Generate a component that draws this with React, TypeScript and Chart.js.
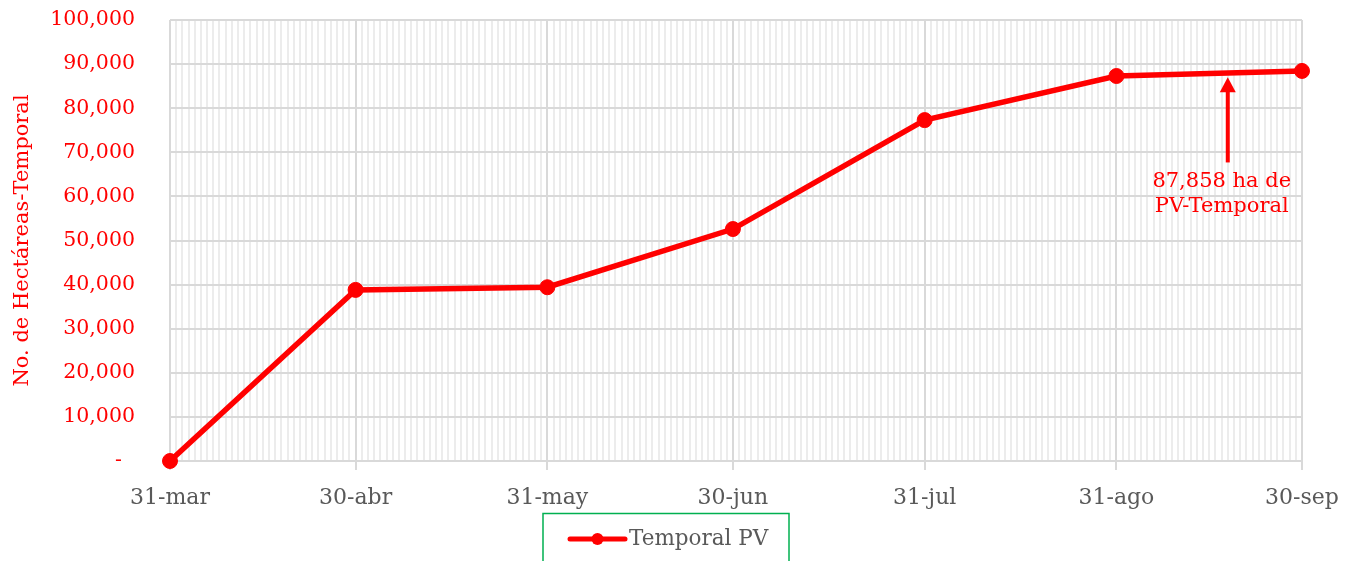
import { useEffect, useRef } from 'react';
import { Chart, registerables } from 'chart.js';
Chart.register(...registerables);

const dates = ['2023-03-31', '2023-04-30', '2023-05-31', '2023-06-30', '2023-07-31', '2023-08-31', '2023-09-30'];
const tickLabels = ['31-mar', '30-abr', '31-may', '30-jun', '31-jul', '31-ago', '30-sep'];
const temporalPV = [0, 38800, 39400, 52600, 77300, 87300, 88450];
const seriesLabel = 'Temporal PV';
const yTitle = 'No. de Hectáreas-Temporal';
const yMax = 100000;
const yStep = 10000;
const annotationLines = ['87,858 ha de', 'PV-Temporal'];
const annotationDate = '2023-09-18';
const annotationTipValue = 87000;
const annotationTailValue = 67700;

const DAY = 86400000;
const startMs = Date.parse(dates[0]);
const dayOf = (d: string) => Math.round((Date.parse(d) - startMs) / DAY);
const majorDays = dates.map(dayOf);
const lastDay = majorDays[majorDays.length - 1];
const allDays: number[] = [];
for (let i = 0; i <= lastDay; i++) allDays.push(i);

const FONT = "'DejaVu Serif', serif";
const RED = '#ff0000';
const GRAY_TEXT = '#595959';
const MAJOR_GRID = '#d9d9d9';
const MINOR_GRID = '#ececec';

const overlayPlugin = {
  id: 'overlay',
  afterDraw(chart: any) {
    const ctx = chart.ctx;
    const xs = chart.scales.x;
    const ys = chart.scales.y;
    // annotation arrow
    const ax = xs.getPixelForValue(dayOf(annotationDate));
    const tipY = ys.getPixelForValue(annotationTipValue);
    const tailY = ys.getPixelForValue(annotationTailValue);
    ctx.save();
    ctx.strokeStyle = RED;
    ctx.fillStyle = RED;
    ctx.lineWidth = 4;
    ctx.beginPath();
    ctx.moveTo(ax, tailY);
    ctx.lineTo(ax, tipY + 12);
    ctx.stroke();
    ctx.beginPath();
    ctx.moveTo(ax, tipY);
    ctx.lineTo(ax - 8, tipY + 15);
    ctx.lineTo(ax + 8, tipY + 15);
    ctx.closePath();
    ctx.fill();
    ctx.font = `21px ${FONT}`;
    ctx.textAlign = 'center';
    ctx.textBaseline = 'middle';
    annotationLines.forEach((t, i) => {
      ctx.fillText(t, ax - 6, tailY + 19 + i * 25);
    });
    ctx.restore();

    // legend
    const ds = chart.data.datasets[0];
    const boxL = chart.width / 2 - 132;
    const boxR = boxL + 246;
    const boxT = 513.5;
    ctx.save();
    ctx.strokeStyle = '#00b050';
    ctx.lineWidth = 1.5;
    ctx.strokeRect(boxL, boxT, boxR - boxL, 80);
    const ly = 539;
    const lx0 = boxL + 27;
    const lx1 = boxL + 82;
    ctx.strokeStyle = ds.borderColor;
    ctx.lineWidth = 5;
    ctx.lineCap = 'round';
    ctx.beginPath();
    ctx.moveTo(lx0, ly);
    ctx.lineTo(lx1, ly);
    ctx.stroke();
    ctx.fillStyle = ds.pointBackgroundColor;
    ctx.beginPath();
    ctx.arc((lx0 + lx1) / 2, ly, 6, 0, Math.PI * 2);
    ctx.fill();
    ctx.fillStyle = GRAY_TEXT;
    ctx.font = `21.5px ${FONT}`;
    ctx.textAlign = 'left';
    ctx.textBaseline = 'middle';
    ctx.fillText(ds.label, lx1 + 4, ly);
    ctx.restore();
  },
};

export default function App() {
  const ref = useRef<HTMLCanvasElement>(null);
  useEffect(() => {
    if (!ref.current) return;
    const chart = new Chart(ref.current, {
      type: 'line',
      data: {
        datasets: [
          {
            label: seriesLabel,
            data: dates.map((d, i) => ({ x: dayOf(d), y: temporalPV[i] })),
            borderColor: RED,
            backgroundColor: RED,
            pointBackgroundColor: RED,
            pointBorderColor: RED,
            borderWidth: 5.5,
            pointRadius: 7.5,
            pointBorderWidth: 1,
            tension: 0,
            clip: false as any,
          },
        ],
      },
      options: {
        animation: false,
        responsive: true,
        maintainAspectRatio: false,
        layout: { padding: { top: 20, right: 48, bottom: 40, left: 0 } },
        plugins: { legend: { display: false }, tooltip: { enabled: false } },
        scales: {
          x: {
            type: 'linear',
            min: 0,
            max: lastDay,
            afterBuildTicks: (axis: any) => {
              axis.ticks = allDays.map((v) => ({ value: v }));
            },
            afterFit: (axis: any) => {
              axis.height = 60;
            },
            border: { display: false },
            grid: {
              color: (c: any) => (majorDays.includes(c.tick?.value) ? MAJOR_GRID : MINOR_GRID),
              tickColor: (c: any) => (majorDays.includes(c.tick?.value) ? MAJOR_GRID : 'rgba(0,0,0,0)'),
              lineWidth: 2,
              tickLength: 9,
            },
            ticks: {
              autoSkip: false,
              maxRotation: 0,
              padding: 9,
              color: GRAY_TEXT,
              font: { family: FONT, size: 22, lineHeight: 1.75 },
              callback: (v: any) => {
                const idx = majorDays.indexOf(Number(v));
                return idx >= 0 ? tickLabels[idx] : '';
              },
            },
          },
          y: {
            min: 0,
            max: yMax,
            afterFit: (axis: any) => {
              axis.width = 170;
            },
            border: { display: false },
            grid: { color: MAJOR_GRID, lineWidth: 2, drawTicks: true, tickLength: 35, tickColor: 'rgba(0,0,0,0)' },
            ticks: {
              stepSize: yStep,
              padding: 0,
              color: RED,
              font: { family: FONT, size: 20.5 },
              callback: (v: any) => (Number(v) === 0 ? '-  ' : Number(v).toLocaleString('en-US')),
            },
            title: {
              display: true,
              text: yTitle,
              color: RED,
              font: { family: FONT, size: 21 },
              padding: { top: 10, bottom: 0 },
            },
          },
        },
      },
      plugins: [overlayPlugin],
    });
    return () => chart.destroy();
  }, []);
  return (
    <div style={{ position: 'absolute', left: 0, top: 0, width: 1350, height: 561, background: '#fff' }}>
      <canvas ref={ref} />
    </div>
  );
}
